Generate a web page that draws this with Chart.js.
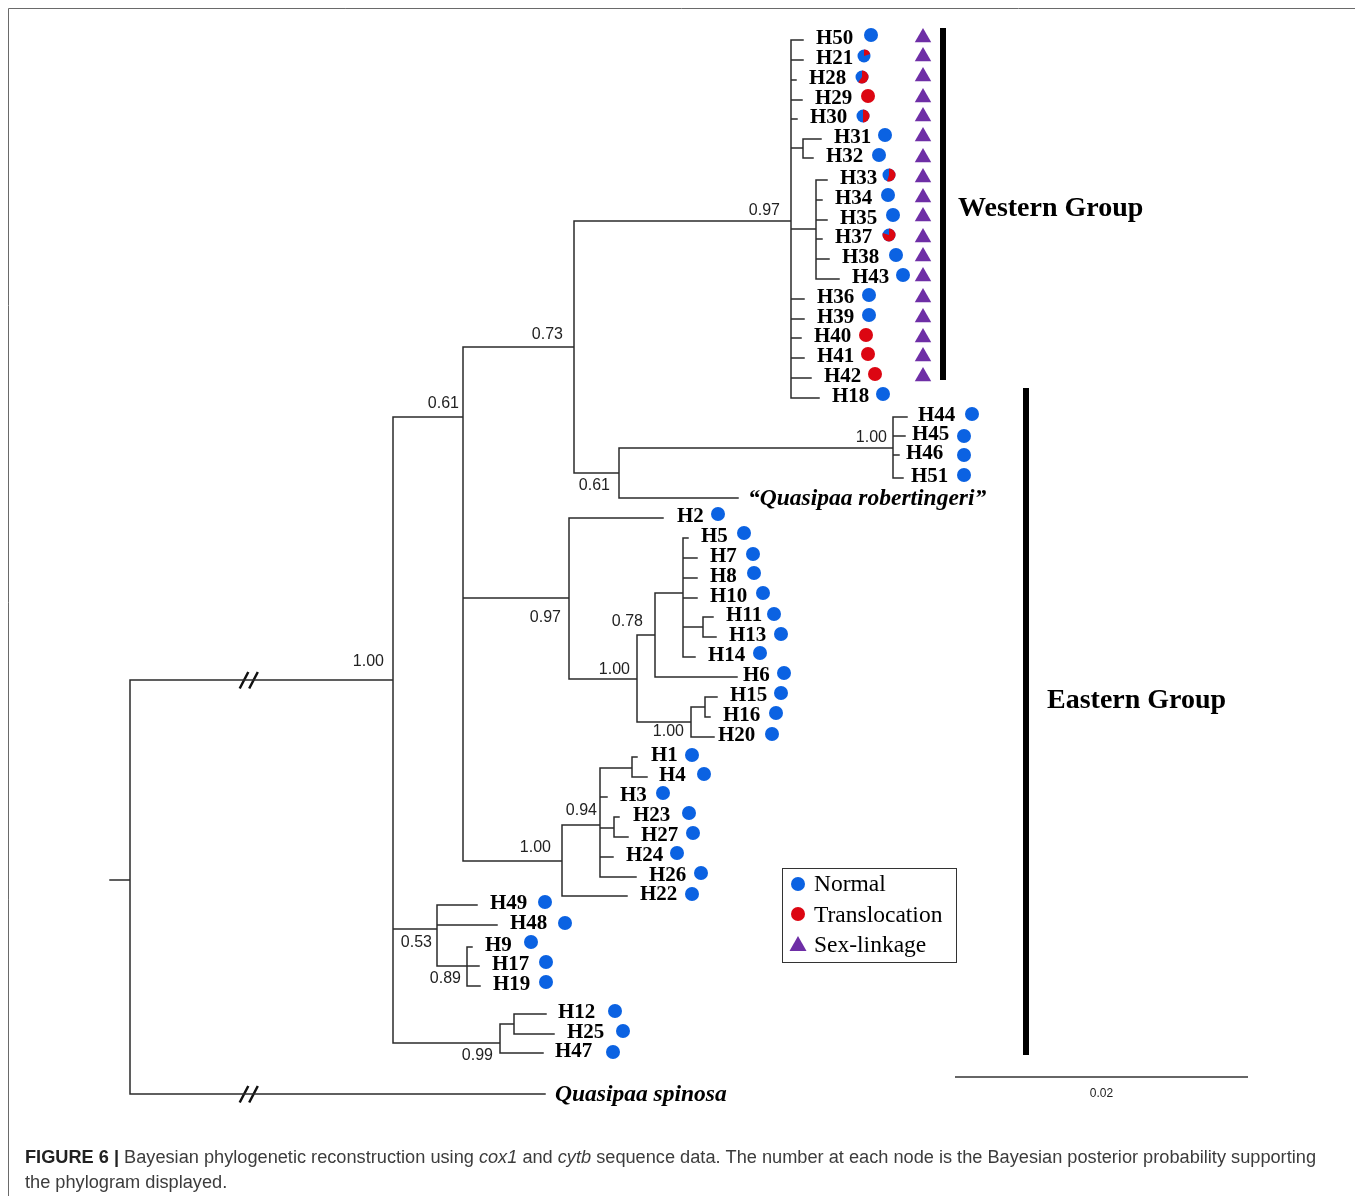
<!DOCTYPE html>
<html>
<head>
<meta charset="utf-8">
<title>Bayesian phylogenetic reconstruction</title>
<script src="https://cdn.jsdelivr.net/npm/chart.js"></script>
<style>
  html, body { margin: 0; padding: 0; background: #fff; }
</style>
</head>
<body>
<canvas id="tree" width="1355" height="1196"></canvas>
<script>
// inner nodes of the tree: [id, x, y, parent]  (x = depth, y = row)
const innerNodes = [
  ['base', 110, 880, null],
  ['root', 130, 880, 'base'],
  ['nA', 393, 680, 'root'],
  ['n061a', 463, 417, 'nA'],
  ['n073', 574, 347, 'n061a'],
  ['nW', 791, 221, 'n073'],
  ['nW3132', 803, 148, 'nW'],
  ['nW33', 816, 229, 'nW'],
  ['n061b', 619, 473, 'n073'],
  ['nE1', 893, 448, 'n061b'],
  ['n097b', 569, 598, 'n061a'],
  ['n100a', 637, 679, 'n097b'],
  ['n078', 655, 635, 'n100a'],
  ['nP', 683, 593, 'n078'],
  ['n1113', 703, 627, 'nP'],
  ['n100b', 691, 722, 'n100a'],
  ['n1516', 705, 707, 'n100b'],
  ['n100c', 562, 861, 'n061a'],
  ['n094', 600, 825, 'n100c'],
  ['n14', 632, 768, 'n094'],
  ['n2327', 614, 828, 'n094'],
  ['n053', 437, 929, 'nA'],
  ['n089', 467, 966, 'n053'],
  ['n099', 500, 1043, 'nA'],
  ['n1225', 514, 1024, 'n099']
];

// haplotype tips
const leafNames = ['H50','H21','H28','H29','H30','H31','H32','H33','H34','H35','H37','H38','H43',
  'H36','H39','H40','H41','H42','H18','H44','H45','H46','H51','H2','H5','H7','H8','H10','H11',
  'H13','H14','H6','H15','H16','H20','H1','H4','H3','H23','H27','H24','H26','H22','H49','H48',
  'H9','H17','H19','H12','H25','H47'];
const leafEndX = [803,803,796,802,797,821,813,827,822,827,822,829,839,
  804,804,801,804,811,819,907,905,899,903,663,688,697,697,697,713,
  716,695,737,717,710,714,637,647,607,619,628,613,636,627,477,497,
  472,479,480,546,554,543];
const leafY = [40,60,80,100,119,139,158,180,200,220,239,259,279,
  299,319,338,358,378,398,417,436,455,478,518,538,558,578,598,617,
  637,657,677,697,717,737,757,777,797,817,837,857,877,896,905,925,
  947,966,986,1014,1034,1053];
const leafParent = ['nW','nW','nW','nW','nW','nW3132','nW3132','nW33','nW33','nW33','nW33','nW33','nW33',
  'nW','nW','nW','nW','nW','nW','nE1','nE1','nE1','nE1','n097b','nP','nP','nP','nP','n1113',
  'n1113','nP','n078','n1516','n1516','n100b','n14','n14','n094','n2327','n2327','n094','n094','n100c','n053','n053',
  'n089','n089','n089','n1225','n1225','n099'];
const leafLabelX = [816,816,809,815,810,834,826,840,835,840,835,842,852,
  817,817,814,817,824,832,918,912,906,911,677,701,710,710,710,726,
  729,708,743,730,723,718,651,659,620,633,641,626,649,640,490,510,
  485,492,493,558,567,555];

// karyotype marker per tip (share of translocation = red part of the circle)
const markerX = [871,864,862,868,863,885,879,889,888,893,889,896,903,
  869,869,866,868,875,883,972,964,964,964,718,744,753,754,763,774,
  781,760,784,781,776,772,692,704,663,689,693,677,701,692,545,565,
  531,546,546,615,623,613];
const markerY = [35,56,77,96,116,135,155,175,195,215,235,255,275,
  295,315,335,354,374,394,414,436,455,475,514,533,554,573,593,614,
  634,653,673,693,713,734,755,774,793,813,833,853,873,894,902,923,
  942,962,982,1011,1031,1052];
const redShare = [0,0.2,0.6,1,0.5,0,0,0.55,0,0,0.8,0,0,
  0,0,1,1,1,0,0,0,0,0,0,0,0,0,0,0,
  0,0,0,0,0,0,0,0,0,0,0,0,0,0,0,0,
  0,0,0,0,0,0];

// sex-linkage triangles
const sexLinkX = 923;
const sexLinkY = [37.5,56.5,76.5,97.5,116.5,136.5,157.5,177.5,197.5,216.5,237.5,256.5,276.5,297.5,317.5,337.5,356.5,376.5];

// outgroup / species tips
const speciesNames = ['\u201CQuasipaa robertingeri\u201D', 'Quasipaa spinosa'];
const speciesEndX = [738, 545];
const speciesY = [498, 1094];
const speciesParent = ['n061b', 'root'];

// posterior probabilities
const supportText = ['1.00','0.61','0.73','0.97','0.61','1.00','0.97','1.00','0.78','1.00','1.00','0.94','0.53','0.89','0.99'];
const supportX = [384,459,563,780,610,887,561,630,643,684,551,597,432,461,493];
const supportY = [666,408,339,215,490,442,622,674,626,736,852,815,947,983,1060];

// group bars
const groupNames = ['Western Group', 'Eastern Group'];
const groupBarX = [943, 1026];
const groupBarTop = [28, 388];
const groupBarBottom = [380, 1055];
const groupLabelX = [958, 1047];
const groupLabelY = [216, 708];

// broken branches (//)
const breakX = [244, 253.5];
const breakY = [680, 1094];

// scale bar
const scaleFrom = 955, scaleTo = 1248, scaleY = 1077, scaleLabel = '0.02';

const BLUE = '#0b62e2';
const RED = '#dc0612';
const PURPLE = '#6e2ea6';
const LINE = '#2b2b2b';

// ---- build tree segments ----
const nodes = {};
innerNodes.forEach(([id, x, y, p]) => { nodes[id] = { x, y, p, kids: [] }; });
leafNames.forEach((n, i) => { nodes[n] = { x: leafEndX[i], y: leafY[i], p: leafParent[i], kids: [] }; });
speciesNames.forEach((n, i) => { nodes[n] = { x: speciesEndX[i], y: speciesY[i], p: speciesParent[i], kids: [] }; });
Object.keys(nodes).forEach(id => { if (nodes[id].p) nodes[nodes[id].p].kids.push(id); });

const gap = { x: null, y: null };
const treePts = [];
Object.keys(nodes).forEach(id => {
  const n = nodes[id];
  if (n.p) treePts.push({ x: nodes[n.p].x, y: n.y }, { x: n.x, y: n.y }, gap);
  if (n.kids.length) {
    const ys = n.kids.map(k => nodes[k].y);
    treePts.push({ x: n.x, y: Math.min(...ys) }, { x: n.x, y: Math.max(...ys) }, gap);
  }
});

const breakPts = [];
breakY.forEach(y => breakX.forEach(x => {
  breakPts.push({ x: x - 4.3, y: y + 8.5 }, { x: x + 4.3, y: y - 8 }, gap);
}));

const barPts = [];
groupBarX.forEach((x, i) => barPts.push({ x, y: groupBarTop[i] }, { x, y: groupBarBottom[i] }, gap));

// markers
const bluePts = [], redPts = [], piePts = [], pieStyles = [];
function pieStyle(share) {
  const c = document.createElement('canvas');
  c.width = c.height = 14;
  const g = c.getContext('2d');
  g.fillStyle = BLUE;
  g.beginPath(); g.arc(7, 7, 6.5, 0, Math.PI * 2); g.fill();
  g.fillStyle = RED;
  g.beginPath(); g.moveTo(7, 7);
  g.arc(7, 7, 6.5, -Math.PI / 2, -Math.PI / 2 + share * Math.PI * 2);
  g.closePath(); g.fill();
  return c;
}
leafNames.forEach((n, i) => {
  const p = { x: markerX[i], y: markerY[i] };
  if (redShare[i] === 0) bluePts.push(p);
  else if (redShare[i] === 1) redPts.push(p);
  else { piePts.push(p); pieStyles.push(pieStyle(redShare[i])); }
});
const triPts = sexLinkY.map(y => ({ x: sexLinkX, y }));

// ---- text drawn onto the chart ----
const textPlugin = {
  id: 'treeText',
  afterDatasetsDraw(chart) {
    const { ctx, scales: { x: sx, y: sy } } = chart;
    const px = v => sx.getPixelForValue(v), py = v => sy.getPixelForValue(v);
    ctx.save();

    // frame
    ctx.strokeStyle = '#6a6a6a'; ctx.lineWidth = 1;
    ctx.beginPath(); ctx.moveTo(8.5, 1196); ctx.lineTo(8.5, 8.5); ctx.lineTo(1355, 8.5); ctx.stroke();

    ctx.fillStyle = '#000';
    ctx.textAlign = 'left'; ctx.textBaseline = 'alphabetic';
    ctx.font = 'bold 21px "Liberation Serif"';
    leafNames.forEach((n, i) => ctx.fillText(n, px(leafLabelX[i]), py(leafY[i]) + 4));

    ctx.font = 'italic bold 23.5px "Liberation Serif"';
    speciesNames.forEach((n, i) => ctx.fillText(n, px(speciesEndX[i]) + 10, py(speciesY[i]) + 7));

    ctx.font = 'bold 28px "Liberation Serif"';
    groupNames.forEach((n, i) => ctx.fillText(n, px(groupLabelX[i]), py(groupLabelY[i])));

    ctx.fillStyle = '#222';
    ctx.font = '16px "Liberation Sans"';
    ctx.textAlign = 'right';
    supportText.forEach((t, i) => ctx.fillText(t, px(supportX[i]), py(supportY[i])));

    ctx.textAlign = 'center';
    ctx.font = '12px "Liberation Sans"';
    ctx.fillText(scaleLabel, px((scaleFrom + scaleTo) / 2), py(scaleY) + 20);

    // legend
    ctx.strokeStyle = '#333'; ctx.lineWidth = 1;
    ctx.strokeRect(782.5, 868.5, 174, 94);
    ctx.fillStyle = BLUE; ctx.beginPath(); ctx.arc(798, 884, 7, 0, Math.PI * 2); ctx.fill();
    ctx.fillStyle = RED; ctx.beginPath(); ctx.arc(798, 914, 7, 0, Math.PI * 2); ctx.fill();
    ctx.fillStyle = PURPLE; ctx.beginPath();
    ctx.moveTo(798, 936); ctx.lineTo(806.5, 951); ctx.lineTo(789.5, 951); ctx.closePath(); ctx.fill();
    ctx.fillStyle = '#000'; ctx.textAlign = 'left';
    ctx.font = '23.5px "Liberation Serif"';
    ctx.fillText('Normal', 814, 891);
    ctx.fillText('Translocation', 814, 922);
    ctx.fillText('Sex-linkage', 814, 952);

    // caption
    const line1 = [
      ['FIGURE 6 | ', 'bold'], ['Bayesian phylogenetic reconstruction using ', ''], ['cox1', 'italic'],
      [' and ', ''], ['cytb', 'italic'],
      [' sequence data. The number at each node is the Bayesian posterior probability supporting', '']
    ];
    const line2 = [['the phylogram displayed.', '']];
    const fontOf = s => (s ? s + ' ' : '') + '18px "Liberation Sans"';
    let w = 0;
    line1.forEach(([t, s]) => { ctx.font = fontOf(s); w += ctx.measureText(t).width; });
    const k = 1291 / w;
    [[line1, 1163], [line2, 1188]].forEach(([segs, base]) => {
      ctx.save();
      ctx.translate(25, base); ctx.scale(k, 1);
      let cx = 0;
      segs.forEach(([t, s]) => {
        ctx.font = fontOf(s);
        ctx.fillStyle = s === 'bold' ? '#222' : '#3c3c3c';
        ctx.fillText(t, cx, 0);
        cx += ctx.measureText(t).width;
      });
      ctx.restore();
    });
    ctx.restore();
  }
};

new Chart(document.getElementById('tree'), {
  type: 'scatter',
  data: {
    datasets: [
      { data: treePts, showLine: true, borderColor: LINE, borderWidth: 1.5, pointRadius: 0, borderCapStyle: 'square' },
      { data: breakPts, showLine: true, borderColor: '#111', borderWidth: 2.5, pointRadius: 0 },
      { data: barPts, showLine: true, borderColor: '#000', borderWidth: 6, pointRadius: 0, borderCapStyle: 'butt' },
      { data: [{ x: scaleFrom, y: scaleY }, { x: scaleTo, y: scaleY }], showLine: true, borderColor: '#333', borderWidth: 1.5, pointRadius: 0 },
      { data: bluePts, pointStyle: 'circle', pointRadius: 7, backgroundColor: BLUE, borderWidth: 0 },
      { data: redPts, pointStyle: 'circle', pointRadius: 7, backgroundColor: RED, borderWidth: 0 },
      { data: piePts, pointStyle: pieStyles, pointRadius: 7, borderWidth: 0 },
      { data: triPts, pointStyle: 'triangle', pointRadius: 9.5, backgroundColor: PURPLE, borderWidth: 0 }
    ]
  },
  options: {
    responsive: false,
    animation: false,
    devicePixelRatio: 1,
    events: [],
    layout: { padding: 0, autoPadding: false },
    plugins: { legend: { display: false }, tooltip: { enabled: false } },
    scales: {
      x: { type: 'linear', min: 0, max: 1355, display: false },
      y: { type: 'linear', min: 0, max: 1196, reverse: true, display: false }
    }
  },
  plugins: [textPlugin]
});
</script>
</body>
</html>
